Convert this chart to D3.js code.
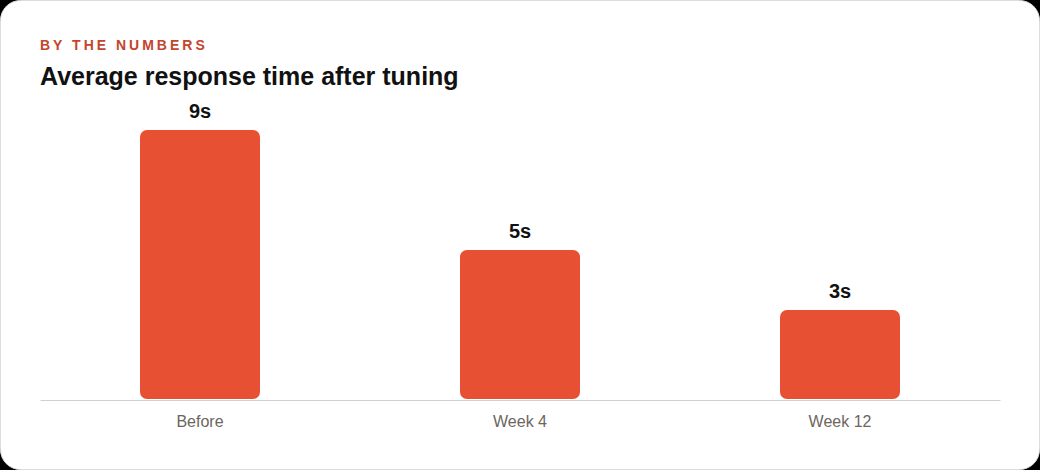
<!DOCTYPE html>
<html>
<head>
<meta charset="utf-8">
<script src="https://cdn.jsdelivr.net/npm/d3@7"></script>
<style>
  html, body { margin: 0; padding: 0; background: #000; }
  body { width: 1040px; height: 470px; overflow: hidden; }
  svg { display: block; }
</style>
</head>
<body>
<svg id="chart" width="1040" height="470"></svg>
<script>
const categories = ["Before", "Week 4", "Week 12"];
const values = [9, 5, 3];
const valueLabels = ["9s", "5s", "3s"];
const eyebrow = "BY THE NUMBERS";
const title = "Average response time after tuning";

const svg = d3.select("#chart");
const W = 1040, H = 470;
const font = "'Liberation Sans', Arial, Helvetica, sans-serif";

svg.append("rect")
  .attr("x", 0.5).attr("y", 0.5)
  .attr("width", W - 1).attr("height", H - 1)
  .attr("rx", 20).attr("ry", 20)
  .attr("fill", "#fff")
  .attr("stroke", "#dcdcdc");

svg.append("text")
  .attr("x", 40).attr("y", 50)
  .attr("font-family", font).attr("font-size", 14).attr("font-weight", 700)
  .attr("letter-spacing", "3px")
  .attr("fill", "#c4452c")
  .text(eyebrow);

svg.append("text")
  .attr("x", 40).attr("y", 85)
  .attr("font-family", font).attr("font-size", 25).attr("font-weight", 700)
  .attr("fill", "#111")
  .text(title);

const x = d3.scaleBand()
  .domain(categories)
  .range([40, 1000])
  .paddingInner(0.625)
  .paddingOuter(0.3125);

const y = d3.scaleLinear()
  .domain([0, 9])
  .range([400, 130]);

const g = svg.append("g");

g.selectAll("rect.bar")
  .data(categories)
  .join("rect")
  .attr("class", "bar")
  .attr("x", d => x(d))
  .attr("y", (d, i) => y(values[i]))
  .attr("width", x.bandwidth())
  .attr("height", (d, i) => y(0) - y(values[i]) - 1)
  .attr("rx", 7).attr("ry", 7)
  .attr("fill", "#e85034");

const xAxis = d3.axisBottom(x).tickSize(0).tickPadding(16);
const ax = svg.append("g")
  .attr("transform", `translate(0,${y(0)})`)
  .call(xAxis);
ax.select(".domain").attr("stroke", "#d0d0d0").attr("stroke-width", 1);
ax.selectAll("text")
  .attr("font-family", font).attr("font-size", 16)
  .attr("fill", "#6b6660");

g.selectAll("text.val")
  .data(categories)
  .join("text")
  .attr("class", "val")
  .attr("x", d => x(d) + x.bandwidth() / 2)
  .attr("y", (d, i) => y(values[i]) - 12)
  .attr("text-anchor", "middle")
  .attr("font-family", font).attr("font-size", 20).attr("font-weight", 700)
  .attr("fill", "#111")
  .text((d, i) => valueLabels[i]);
</script>
</body>
</html>
